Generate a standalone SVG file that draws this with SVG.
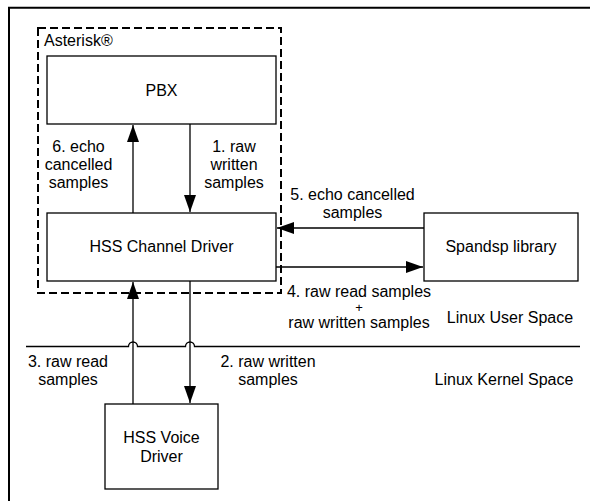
<svg xmlns="http://www.w3.org/2000/svg" width="590" height="501" viewBox="0 0 590 501">
<style>
text{font-family:"Liberation Sans",Arial,sans-serif;font-size:16px;fill:#000;text-anchor:middle}
.box{fill:#fff;stroke:#000;stroke-width:1.3}
.ln{fill:none;stroke:#000;stroke-width:1.3}
</style>
<defs>
<marker id="ah" markerUnits="userSpaceOnUse" markerWidth="18" markerHeight="12" viewBox="0 0 18 12" refX="17" refY="6" orient="auto">
<path d="M0,0 L17,6 L0,12 Z" fill="#000"/>
</marker>
</defs>
<rect width="590" height="501" fill="#fff"/>
<path d="M9,501 V7.7 H590" fill="none" stroke="#000" stroke-width="2"/>
<g id="asterisk">
<rect x="38" y="28" width="243" height="265" fill="none" stroke="#000" stroke-width="2" stroke-dasharray="8,4"/>
<text x="44" y="46" style="text-anchor:start">Asterisk®</text>
</g>
<g id="pbx">
<rect class="box" x="47" y="56" width="229" height="68"/>
<text x="161.5" y="96">PBX</text>
</g>
<g id="channel">
<rect class="box" x="47" y="213" width="229" height="68"/>
<text x="161.5" y="252">HSS Channel Driver</text>
</g>
<g id="spandsp">
<rect class="box" x="424" y="213" width="154" height="68"/>
<text x="501" y="252">Spandsp library</text>
</g>
<g id="voice">
<rect class="box" x="105" y="404" width="113" height="85"/>
<text x="161.5" y="443">HSS Voice</text>
<text x="161.5" y="462">Driver</text>
</g>
<g id="connectors">
<path class="ln" d="M190,124 V212" marker-end="url(#ah)"/>
<path class="ln" d="M133,213 V125" marker-end="url(#ah)"/>
<path class="ln" d="M424,228 H277" marker-end="url(#ah)"/>
<path class="ln" d="M276,267 H423" marker-end="url(#ah)"/>
<path class="ln" d="M133,404 V282" marker-end="url(#ah)"/>
<path class="ln" d="M190,281 V403" marker-end="url(#ah)"/>
<path class="ln" d="M26,346.5 H128.5 A4.5,4.5 0 0 1 137.5,346.5 H185.5 A4.5,4.5 0 0 1 194.5,346.5 H580"/>
</g>
<g id="labels">
<text x="78.5" y="152">6. echo</text>
<text x="78.5" y="170">cancelled</text>
<text x="78.5" y="188">samples</text>
<text x="234" y="152">1. raw</text>
<text x="234" y="170">written</text>
<text x="234" y="188">samples</text>
<text x="352.5" y="200">5. echo cancelled</text>
<text x="352.5" y="218">samples</text>
<text x="359" y="296.5">4. raw read samples</text>
<text x="359" y="312" style="font-size:13px">+</text>
<text x="359" y="328">raw written samples</text>
<text x="510" y="323">Linux User Space</text>
<text x="68" y="367">3. raw read</text>
<text x="68" y="385">samples</text>
<text x="268" y="367">2. raw written</text>
<text x="268" y="385">samples</text>
<text x="504" y="385">Linux Kernel Space</text>
</g>
</svg>
